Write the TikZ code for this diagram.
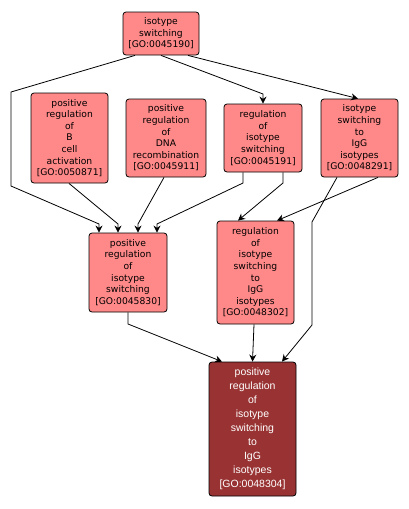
\documentclass[tikz,border=0pt]{standalone}
\usepackage{fontspec}
\setmainfont{DejaVu Sans}
\newfontfamily\hfont{Liberation Sans}
\usetikzlibrary{arrows.meta}
\definecolor{gofill}{RGB}{255,136,136}
\definecolor{godark}{RGB}{153,51,51}
\begin{document}
\begin{tikzpicture}[x=1pt,y=-1pt,
  gobox/.style={draw=black,line width=0.8pt,fill=gofill,rounded corners=3pt,
    align=center,inner sep=0pt,font=\fontsize{9.2}{11.6}\selectfont},
  finalbox/.style={draw=black,line width=0.8pt,fill=godark,rounded corners=3pt,
    align=center,inner sep=0pt,text=white,font=\hfont\fontsize{10.5}{14}\selectfont},
  arr/.style={draw=black,line width=0.8pt,-{Stealth[length=7pt,width=7pt]}}]
\useasboundingbox (0,0) rectangle (408,509);
\fill[white] (0,0) rectangle (408,509);
\node[gobox,minimum width=76pt,minimum height=43pt] (A) at (161,33.5) {isotype\\switching\\{}[GO:0045190]};
\node[gobox,minimum width=77pt,minimum height=90pt] (B) at (69.5,138) {positive\\regulation\\of\\B\\cell\\activation\\{}[GO:0050871]};
\node[gobox,minimum width=80pt,minimum height=78pt] (C) at (166,138) {positive\\regulation\\of\\DNA\\recombination\\{}[GO:0045911]};
\node[gobox,minimum width=78pt,minimum height=68pt] (D) at (263,138) {regulation\\of\\isotype\\switching\\{}[GO:0045191]};
\node[gobox,minimum width=77pt,minimum height=78pt] (E) at (359.5,138) {isotype\\switching\\to\\IgG\\isotypes\\{}[GO:0048291]};
\node[gobox,minimum width=78pt,minimum height=79pt] (F) at (128,272.5) {positive\\regulation\\of\\isotype\\switching\\{}[GO:0045830]};
\node[gobox,minimum width=77pt,minimum height=103pt] (G) at (255.5,272.5) {regulation\\of\\isotype\\switching\\to\\IgG\\isotypes\\{}[GO:0048302]};
\node[finalbox,minimum width=87pt,minimum height=134pt] (H) at (252.5,429) {positive\\regulation\\of\\isotype\\switching\\to\\IgG\\isotypes\\{}[GO:0048304]};
% edges
\draw[arr] ([xshift=-26pt]A.south) -- (11,92) -- (11,186) -- (99,224) -- ([xshift=-29pt]F.north);
\draw[arr] ([xshift=-0.5pt]B.south) -- (118,224) -- ([xshift=-10pt]F.north);
\draw[arr] ([xshift=-2pt]C.south) -- (138,224) -- ([xshift=10pt]F.north);
\draw[arr] ([xshift=-20pt]D.south) -- (243,183) -- (157,224) -- ([xshift=29pt]F.north);
\draw[arr] (A.south) -- (263,94) -- (D.north);
\draw[arr] ([xshift=27pt]A.south) -- ([xshift=-1.5pt]E.north);
\draw[arr] ([xshift=20pt]D.south) -- (283,183) -- ([xshift=-17.5pt]G.north);
\draw[arr] ([xshift=18.5pt]E.south) -- ([xshift=21.5pt]G.north);
\draw[arr] ([xshift=-22.5pt]E.south) -- (312,222) -- (312,325) -- ([xshift=29.5pt]H.north);
\draw[arr] (F.south) -- (128,324) -- ([xshift=-30.5pt]H.north);
\draw[arr] ([xshift=-1.5pt]G.south) -- (H.north);
\end{tikzpicture}
\end{document}
